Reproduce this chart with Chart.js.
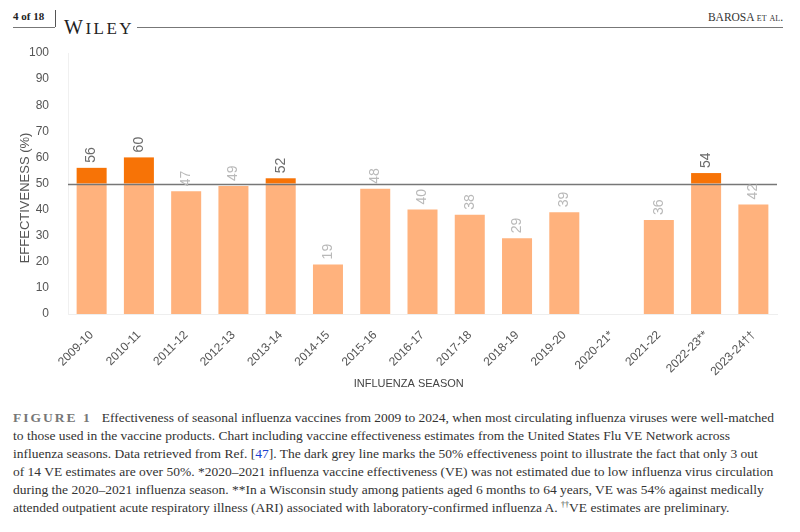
<!DOCTYPE html>
<html>
<head>
<meta charset="utf-8">
<script src="https://cdn.jsdelivr.net/npm/chart.js@4.4.1/dist/chart.umd.min.js"></script>
<style>
  body { margin: 0; width: 800px; height: 532px; background: #fff; position: relative; overflow: hidden; font-family: "Liberation Serif", serif; color: #222; }
  .abs { position: absolute; }
  .pg { left: 13px; top: 11px; font-size: 11px; font-weight: bold; line-height: 1; }
  .vline { left: 55px; top: 10px; width: 1px; height: 17px; background: #555; }
  .hline { top: 27px; height: 1px; background: #777; }
  .wiley { left: 64px; top: 17px; font-size: 20px; line-height: 1; letter-spacing: 2.5px; color: #222; }
  .wiley span { font-size: 17px; }
  .authors { right: 17px; top: 12px; font-size: 11.5px; line-height: 1; color: #333; }
  .authors span { font-variant: small-caps; }
  #wrap { left: 0; top: 40px; width: 800px; height: 355px; }
  .caption { left: 13px; top: 409px; font-size: 13.5px; line-height: 18px; color: #333; white-space: nowrap; }
  .caption b { font-weight: bold; color: #777; letter-spacing: 2px; margin-right: 10px; }
  .caption a { color: #1a3fd0; text-decoration: none; }
  .caption sup { font-size: 8px; line-height: 0; vertical-align: 5px; }
</style>
</head>
<body>
<div class="abs pg">4 of 18</div>
<div class="abs vline"></div>
<div class="abs hline" style="left:13px;width:42px"></div>
<div class="abs hline" style="left:137px;width:646px"></div>
<div class="abs wiley">W<span>ILEY</span></div>
<div class="abs authors">BAROSA <span>et al.</span></div>

<div id="wrap" class="abs"><canvas id="bar-chart"></canvas></div>

<div class="abs caption">
<b>FIGURE 1</b>Effectiveness of seasonal influenza vaccines from 2009 to 2024, when most circulating influenza viruses were well-matched<br>
to those used in the vaccine products. Chart including vaccine effectiveness estimates from the United States Flu VE Network across<br>
influenza seasons. Data retrieved from Ref. [<a>47</a>]. The dark grey line marks the 50% effectiveness point to illustrate the fact that only 3 out<br>
of 14 VE estimates are over 50%. *2020–2021 influenza vaccine effectiveness (VE) was not estimated due to low influenza virus circulation<br>
during the 2020–2021 influenza season. **In a Wisconsin study among patients aged 6 months to 64 years, VE was 54% against medically<br>
attended outpatient acute respiratory illness (ARI) associated with laboratory-confirmed influenza A. <sup>††</sup>VE estimates are preliminary.
</div>

<script>
const seasons = ["2009-10", "2010-11", "2011-12", "2012-13", "2013-14", "2014-15", "2015-16",
    "2016-17", "2017-18", "2018-19", "2019-20", "2020-21*", "2021-22", "2022-23**", "2023-24††"];
const ve = [56, 60, 47, 49, 52, 19, 48, 40, 38, 29, 39, null, 36, 54, 42];
const threshold = 50;

// split each bar at the 50% line: light part below, dark part above
const belowLine = ve.map(v => v == null ? null : Math.min(v, threshold));
const aboveLine = ve.map(v => v == null ? null : Math.max(v - threshold, 0));

const thresholdLine = {
    id: "thresholdLine",
    afterDatasetsDraw(chart) {
        const {ctx, chartArea, scales: {y}} = chart;
        const py = Math.round(y.getPixelForValue(threshold)) + 0.5;
        ctx.save();
        ctx.strokeStyle = "#777";
        ctx.lineWidth = 1.5;
        ctx.beginPath();
        ctx.moveTo(chartArea.left, py);
        ctx.lineTo(chartArea.right, py);
        ctx.stroke();
        ctx.restore();
    }
};

const valueLabels = {
    id: "valueLabels",
    afterDatasetsDraw(chart) {
        const {ctx, scales: {x, y}} = chart;
        ctx.save();
        ctx.font = '14px "Liberation Sans", Arial, sans-serif';
        ctx.textAlign = "left";
        ctx.textBaseline = "middle";
        ve.forEach((v, i) => {
            if (v == null) return;
            ctx.save();
            ctx.translate(x.getPixelForValue(i), y.getPixelForValue(v) - 5);
            ctx.rotate(-Math.PI / 2);
            ctx.fillStyle = v > threshold ? "#6b6b6b" : "#b9b9b9";
            ctx.fillText(String(v), 0, 0);
            ctx.restore();
        });
        ctx.restore();
    }
};

const ctx = document.getElementById("bar-chart");

let chartGraph = new Chart(ctx, {
    type: "bar",
    data: {
        labels: seasons,
        datasets: [{
            label: "below 50%",
            data: belowLine,
            backgroundColor: "#ffb27d",
            categoryPercentage: 1,
            barPercentage: 0.635,
        }, {
            label: "above 50%",
            data: aboveLine,
            backgroundColor: "#f77306",
            categoryPercentage: 1,
            barPercentage: 0.635,
        }]
    },
    options: {
        responsive: true,
        maintainAspectRatio: false,
        animation: false,
        layout: { padding: { top: 13, right: 23, left: 0, bottom: 0 } },
        plugins: {
            legend: { display: false },
            tooltip: { enabled: false },
        },
        scales: {
            x: {
                stacked: true,
                grid: { display: false },
                border: { display: true, color: "#eeeeee" },
                ticks: {
                    minRotation: 45,
                    maxRotation: 45,
                    padding: 6,
                    color: "#555",
                    font: { family: '"Liberation Sans", Arial, sans-serif', size: 12 },
                },
                title: {
                    display: true,
                    // trailing spaces nudge the title left like in the original
                    text: "INFLUENZA SEASON         ",
                    color: "#444",
                    padding: { top: 5, bottom: 4 },
                    font: { family: '"Liberation Sans", Arial, sans-serif', size: 11 },
                },
                afterFit(scale) {
                    scale.height = 81;
                    scale.paddingLeft = 0;
                    scale.paddingRight = 0;
                },
            },
            y: {
                stacked: true,
                min: 0,
                max: 100,
                grid: { display: false },
                border: { display: true, color: "#f0f0f0" },
                ticks: {
                    stepSize: 10,
                    padding: 11,
                    color: "#555",
                    font: { family: '"Liberation Sans", Arial, sans-serif', size: 12 },
                },
                title: {
                    display: true,
                    text: "EFFECTIVENESS (%)        ",
                    color: "#555",
                    padding: { top: 18, bottom: 0 },
                    font: { family: '"Liberation Sans", Arial, sans-serif', size: 13 },
                },
                afterFit(scale) {
                    scale.width = 68;
                    scale.paddingTop = 0;
                    scale.paddingBottom = 0;
                },
            }
        }
    },
    plugins: [thresholdLine, valueLabels],
});
</script>
</body>
</html>
